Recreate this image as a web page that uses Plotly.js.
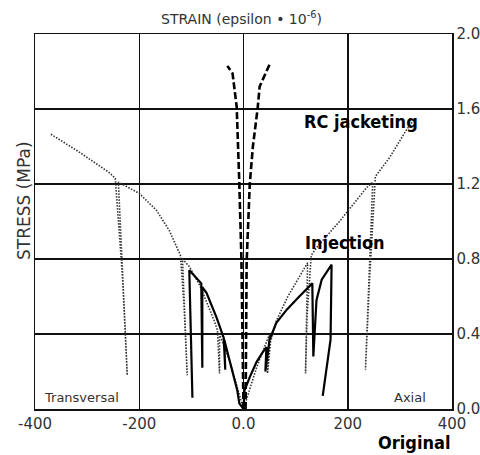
<!DOCTYPE html>
<html>
<head>
<meta charset="utf-8">
<script src="https://cdn.plot.ly/plotly-3.0.1.min.js"></script>
<style>html,body{margin:0;padding:0;background:#fff;}#chart{width:480px;height:455px;}</style>
</head>
<body>
<div id="chart"></div>
<script>
// Strain (epsilon * 1e-6) and stress (MPa)
const xTickVals = [-400, -200, 0, 200, 400];
const xTickText = ["-400", "-200", "0.0", "200", "400"];
const yTickVals = [0, 0.4, 0.8, 1.2, 1.6, 2.0];
const yTickText = ["0.0", "0.4", "0.8", "1.2", "1.6", "2.0"];

// Original (solid)
const origTransX = [0, -8, -12, -23, -33, -37, -35, -38, -52, -71, -79, -79, -81, -104, -98];
const origTransY = [0, 0.03, 0.10, 0.22, 0.33, 0.37, 0.21, 0.38, 0.49, 0.62, 0.65, 0.22, 0.67, 0.74, 0.06];
const origAxX = [0, 2, 12, 25, 36, 44, 42, 50, 63, 83, 107, 132, 134, 140, 150, 169, 167, 152];
const origAxY = [0, 0.10, 0.17, 0.25, 0.30, 0.33, 0.20, 0.37, 0.46, 0.53, 0.60, 0.67, 0.28, 0.58, 0.69, 0.77, 0.37, 0.07];

// Injection (dotted)
const injTransX = [0, -27, -46, -46, -50, -56, -84, -104, -117, -108, -114, -121, -142, -167, -200, -240, -223, -232, -246, -257, -315, -372];
const injTransY = [0, 0.26, 0.40, 0.19, 0.42, 0.47, 0.66, 0.76, 0.80, 0.18, 0.55, 0.82, 0.95, 1.06, 1.15, 1.21, 0.18, 0.70, 1.23, 1.26, 1.37, 1.47];
const injAxX = [0, 25, 50, 46, 52, 63, 85, 110, 123, 119, 122, 130, 140, 184, 236, 248, 234, 242, 253, 280, 313, 326];
const injAxY = [0, 0.22, 0.40, 0.19, 0.36, 0.47, 0.60, 0.72, 0.78, 0.19, 0.50, 0.82, 0.86, 1.00, 1.18, 1.21, 0.21, 0.70, 1.24, 1.34, 1.49, 1.54];

// RC jacketing (dashed)
const rcTransX = [0, -4, -8, -11, -13, -21, -31];
const rcTransY = [0, 0.80, 1.20, 1.43, 1.61, 1.79, 1.83];
const rcAxX = [4, 6, 12, 18, 27, 31, 52];
const rcAxY = [0, 0.78, 1.20, 1.40, 1.60, 1.72, 1.85];

const ink = "#111";
const dotLine = {color: "#333", width: 1.6, dash: "1.5px,1.5px"};
const solidLine = {color: "#000", width: 2.2};
const dashLine = {color: "#000", width: 2.6, dash: "7px,3px"};

const traces = [
  {x: injTransX, y: injTransY, mode: "lines", line: dotLine, name: "Injection T"},
  {x: injAxX, y: injAxY, mode: "lines", line: dotLine, name: "Injection A"},
  {x: origTransX, y: origTransY, mode: "lines", line: solidLine, name: "Original T"},
  {x: origAxX, y: origAxY, mode: "lines", line: solidLine, name: "Original A"},
  {x: rcTransX, y: rcTransY, mode: "lines", line: dashLine, name: "RC T"},
  {x: rcAxX, y: rcAxY, mode: "lines", line: dashLine, name: "RC A"}
];

const plainFont = {family: "DejaVu Sans, sans-serif", size: 14, color: "#333"};
const tickFont = {family: "DejaVu Sans, sans-serif", size: 15, color: "#333"};
const boldFont = {family: "DejaVu Sans Condensed, sans-serif", size: 18, color: "#000", weight: "bold"};

const layout = {
  width: 480, height: 455,
  margin: {l: 35, r: 28, t: 34, b: 46},
  paper_bgcolor: "#fff", plot_bgcolor: "#fff",
  showlegend: false,
  xaxis: {
    range: [-400, 400], tickvals: xTickVals, ticktext: xTickText,
    showgrid: true, gridcolor: ink, gridwidth: 1.5, zeroline: false,
    showline: true, mirror: true, linecolor: ink, linewidth: 1.5,
    ticks: "", tickfont: tickFont, fixedrange: true
  },
  yaxis: {
    range: [0, 2.0], tickvals: yTickVals, ticktext: yTickText, side: "right",
    showgrid: true, gridcolor: ink, gridwidth: 1.5, zeroline: false,
    showline: true, mirror: true, linecolor: ink, linewidth: 1.5,
    ticks: "", tickfont: tickFont, fixedrange: true
  },
  annotations: [
    {text: "STRAIN (epsilon • 10<sup>-6</sup>)", xref: "paper", yref: "paper", x: 0.495, xanchor: "center", y: 1, yanchor: "bottom", yshift: 5, showarrow: false, font: plainFont},
    {text: "STRESS (MPa)", xref: "paper", yref: "paper", x: -0.026, xanchor: "center", y: 0.555, yanchor: "middle", textangle: -90, showarrow: false, font: {family: "DejaVu Sans, sans-serif", size: 17, color: "#333"}},
    {text: "RC jacketing", x: 226, y: 1.536, xanchor: "center", showarrow: false, font: boldFont},
    {text: "Injection", x: 194, y: 0.89, xanchor: "center", showarrow: false, font: boldFont},
    {text: "Original", xref: "paper", yref: "paper", x: 0.909, xanchor: "center", y: -0.088, yanchor: "middle", showarrow: false, font: boldFont},
    {text: "Transversal", x: -311, y: 0.064, xanchor: "center", showarrow: false, font: {family: "DejaVu Sans, sans-serif", size: 13, color: "#333"}},
    {text: "Axial", x: 319, y: 0.064, xanchor: "center", showarrow: false, font: {family: "DejaVu Sans, sans-serif", size: 13, color: "#333"}}
  ]
};

Plotly.newPlot("chart", traces, layout, {displayModeBar: false, staticPlot: true});
</script>
</body>
</html>
